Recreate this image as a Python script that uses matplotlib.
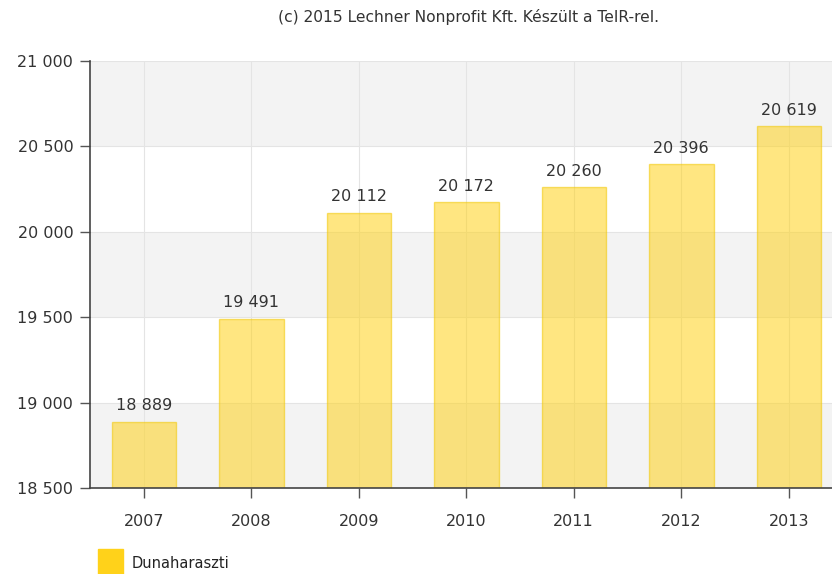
import numpy as np
import matplotlib.pyplot as plt
from matplotlib.patches import Rectangle

years = ['2007', '2008', '2009', '2010', '2011', '2012', '2013']
population = [18889, 19491, 20112, 20172, 20260, 20396, 20619]
y_ticks = [18500, 19000, 19500, 20000, 20500, 21000]
series_name = 'Dunaharaszti'
credit = '(c) 2015 Lechner Nonprofit Kft. Készült a TeIR-rel.'


def fmt(v):
    return '{:,}'.format(v).replace(',', ' ')


fig = plt.figure(figsize=(8.32, 5.74), dpi=100)
ax = fig.add_axes([90 / 832, 86 / 574, 752.5 / 832, 427 / 574])

x = np.arange(len(years))

# alternating bands
for i in range(len(y_ticks) - 1):
    if i % 2 == 0:
        ax.axhspan(y_ticks[i], y_ticks[i + 1], color='#f3f3f3', zorder=0, lw=0)
for t in y_ticks[1:]:
    ax.axhline(t, color='#e4e4e4', lw=0.8, zorder=0.5)
for xi in x:
    ax.axvline(xi, color='#e4e4e4', lw=0.8, zorder=0.5)

ax.bar(x, np.array(population) - 18500, bottom=18500, width=0.6,
       color='#ffd21a', alpha=0.55, edgecolor='#f2c800', linewidth=1, zorder=2)

for xi, v in zip(x, population):
    ax.annotate(fmt(v), (xi, v), xytext=(0, 6), textcoords='offset points',
                ha='center', va='bottom', fontsize=11.5, color='#333333')

ax.set_xlim(-0.5, 6.5)
ax.set_ylim(18500, 21000)
ax.set_yticks(y_ticks)
ax.set_yticklabels([fmt(t) for t in y_ticks], fontsize=11.5, color='#333333')
ax.set_xticks(x)
ax.set_xticklabels(years, fontsize=11.5, color='#333333')
ax.tick_params(axis='both', length=7, width=1, color='#555555')
ax.tick_params(axis='x', pad=12)
ax.tick_params(axis='y', pad=5)

for s in ['top', 'right']:
    ax.spines[s].set_visible(False)
ax.spines['left'].set_color('#444444')
ax.spines['bottom'].set_color('#444444')
ax.spines['left'].set_linewidth(1.2)
ax.spines['bottom'].set_linewidth(1.2)

fig.text(468 / 832, 1 - 17 / 574, credit, ha='center', va='center',
         fontsize=11.2, color='#333333')

fig.patches.append(Rectangle((98 / 832, 1 - 574 / 574), 25 / 832, 25 / 574,
                             transform=fig.transFigure, color='#ffd21a', figure=fig))
fig.text(132 / 832, 1 - 563 / 574, series_name, ha='left', va='center',
         fontsize=10.5, color='#222222')

fig.savefig('out.png', dpi=100)
